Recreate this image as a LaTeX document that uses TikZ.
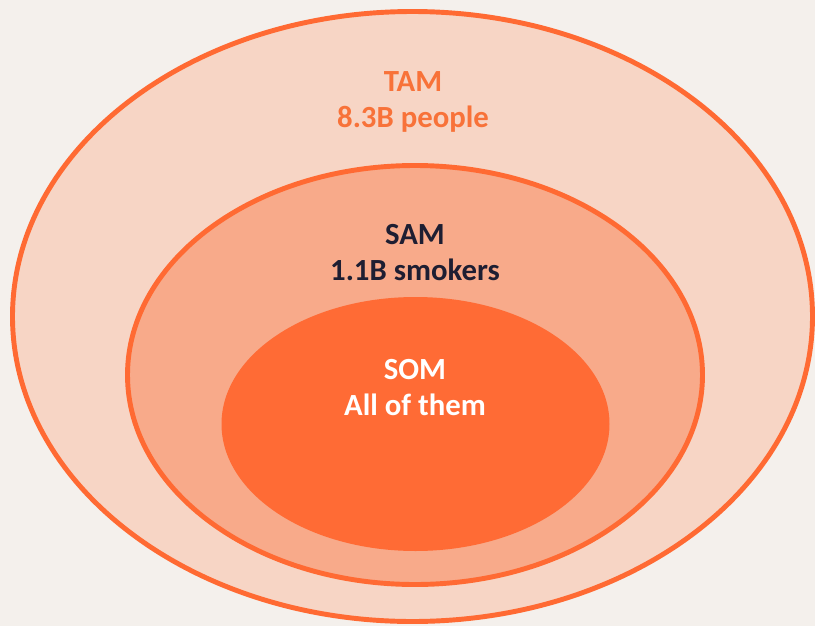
\documentclass[tikz,border=0pt]{standalone}
\usepackage{fontspec}
\setmainfont{Carlito}
\usetikzlibrary{shapes.geometric}

\definecolor{paper}{HTML}{F4F0EC}
\definecolor{edge}{HTML}{FF6A33}
\definecolor{tamfill}{HTML}{F7D5C5}
\definecolor{samfill}{HTML}{F8AA8A}
\definecolor{somfill}{HTML}{FF6B35}
\definecolor{tamtext}{HTML}{F87239}
\definecolor{samtext}{HTML}{1E1E32}

\tikzset{
  market/.style={ellipse, inner sep=0pt},
  label text/.style={align=center, font=\bfseries\fontsize{17.5}{20.5}\selectfont}
}

\begin{document}
\begin{tikzpicture}
    \fill[paper] (0,0) rectangle (16.3,-12.52);
    \useasboundingbox (0,0) rectangle (16.3,-12.52);
    \node (tam) at (8.25,-6.33) [market, draw=edge, line width=2.8pt, fill=tamfill, minimum width=16.0cm, minimum height=12.2cm] {};
    \node (sam) at (8.30,-7.50) [market, draw=edge, line width=2.8pt, fill=samfill, minimum width=11.5cm, minimum height=8.38cm] {};
    \node (som) at (8.31,-8.48) [market, fill=somfill, minimum width=7.76cm, minimum height=5.08cm] {};
    \node (tamlabel) at (8.26,-2.04) [label text, text=tamtext] {TAM\\8.3B people};
    \node (samlabel) at (8.30,-5.06) [label text, text=samtext] {SAM\\1.1B smokers};
    \node (somlabel) at (8.30,-7.75) [label text, text=white] {SOM\\All of them};
\end{tikzpicture}
\end{document}
